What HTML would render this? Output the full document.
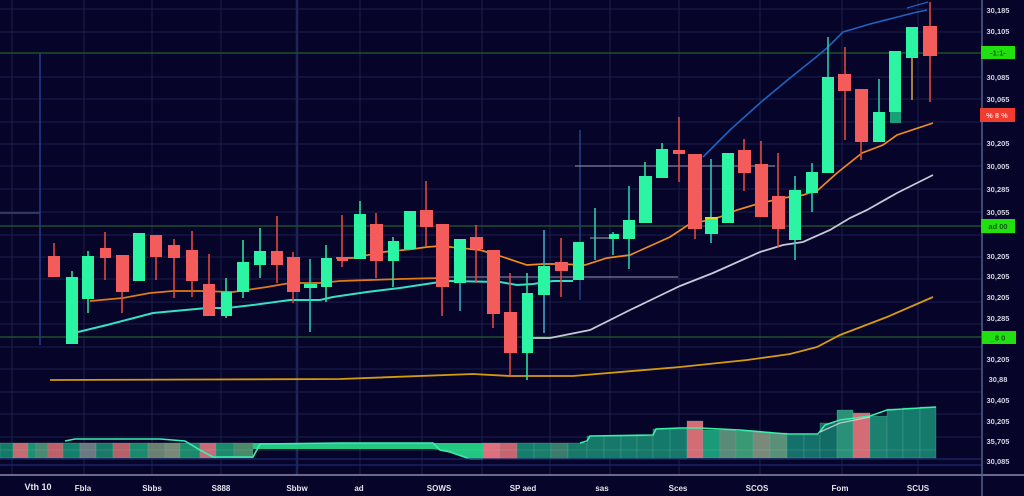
<!DOCTYPE html>
<html><head><meta charset="utf-8">
<style>
html,body{margin:0;padding:0;background:#060428;}
svg{display:block;}
text{font-family:"Liberation Sans",sans-serif;font-weight:bold;}
</style></head>
<body>
<svg width="1024" height="496" viewBox="0 0 1024 496" xmlns="http://www.w3.org/2000/svg">
<rect width="1024" height="496" fill="#060428"/>
<!-- horizontal grid -->
<g stroke="#1c2150" stroke-width="1">
<line x1="0" y1="9" x2="982" y2="9"/><line x1="0" y1="32" x2="982" y2="32"/>
<line x1="0" y1="77" x2="982" y2="77"/><line x1="0" y1="99" x2="982" y2="99"/>
<line x1="0" y1="122" x2="982" y2="122"/><line x1="0" y1="144" x2="982" y2="144"/>
<line x1="0" y1="166" x2="982" y2="166"/><line x1="0" y1="189" x2="982" y2="189"/>
<line x1="0" y1="212" x2="982" y2="212"/><line x1="0" y1="235" x2="982" y2="235"/>
<line x1="0" y1="257" x2="982" y2="257"/><line x1="0" y1="279" x2="982" y2="279"/>
<line x1="0" y1="302" x2="982" y2="302"/><line x1="0" y1="324" x2="982" y2="324"/>
<line x1="0" y1="347" x2="982" y2="347"/><line x1="0" y1="369" x2="982" y2="369"/>
<line x1="0" y1="392" x2="982" y2="392"/><line x1="0" y1="414" x2="982" y2="414"/>
<line x1="0" y1="437" x2="982" y2="437"/>
</g>
<!-- vertical grid -->
<g stroke="#1a1f4c" stroke-width="1">
<line x1="12" y1="0" x2="12" y2="475"/><line x1="84" y1="0" x2="84" y2="475"/>
<line x1="152" y1="0" x2="152" y2="475"/><line x1="221" y1="0" x2="221" y2="475"/>
<line x1="360" y1="0" x2="360" y2="475"/><line x1="422" y1="0" x2="422" y2="475"/>
<line x1="482" y1="0" x2="482" y2="475"/><line x1="550" y1="0" x2="550" y2="475"/>
<line x1="610" y1="0" x2="610" y2="475"/><line x1="679" y1="0" x2="679" y2="475"/>
<line x1="760" y1="0" x2="760" y2="475"/><line x1="842" y1="0" x2="842" y2="475"/>
<line x1="918" y1="0" x2="918" y2="475"/>
</g>
<line x1="297" y1="0" x2="297" y2="475" stroke="#1c2556" stroke-width="2.5"/>
<line x1="40" y1="53" x2="40" y2="345" stroke="#223d90" stroke-width="1.5"/>
<line x1="0" y1="213" x2="40" y2="213" stroke="#3a4370" stroke-width="1.5"/>
<line x1="580" y1="130" x2="580" y2="300" stroke="#2a4fa0" stroke-width="1.2"/>
<!-- green level lines -->
<g stroke="#1f4e2c" stroke-width="1.6">
<line x1="0" y1="53" x2="982" y2="53"/>
<line x1="0" y1="226" x2="982" y2="226"/>
<line x1="0" y1="337" x2="982" y2="337"/>
</g>
<!-- light horizontal lines -->
<line x1="575" y1="166" x2="775" y2="166" stroke="#9a9ab0" stroke-width="1.3" opacity="0.8"/>
<line x1="440" y1="277" x2="678" y2="277" stroke="#9a9ab0" stroke-width="1.3" opacity="0.8"/>
<line x1="590" y1="238" x2="618" y2="238" stroke="#9ab0b0" stroke-width="1.2" opacity="0.8"/>

<!-- gold slow MA -->
<polyline fill="none" stroke="#d49a10" stroke-width="1.8" points="50,380 200,379.5 340,379 473,374 510,376 573,376 680,367 747,360 790,354 817,347 840,335 887,317 933,297"/>
<!-- white/gray MA -->
<polyline fill="none" stroke="#c8c8d8" stroke-width="1.8" points="533,338 550,338 590,330 630,310 657,297 680,286 713,273 760,252 783,245 803,242 830,230 850,218 867,210 897,193 933,175"/>
<!-- teal MA -->
<polyline fill="none" stroke="#36e0c4" stroke-width="2" points="78,332 107,325 153,313 207,308 227,308 253,305 290,300 320,300 333,297 367,292 400,288 433,283 450,281 500,282 517,285 533,284 553,281 573,281"/>
<!-- orange MA A -->
<polyline fill="none" stroke="#e07a18" stroke-width="1.7" points="90,301 123,298 150,293 173,291 200,291 233,292 267,287 290,283 320,283 340,281 400,279 440,278"/>
<!-- orange MA B -->
<polyline fill="none" stroke="#f08a1a" stroke-width="1.7" points="336,258 353,258 383,252 413,249 427,247 440,246 480,250 500,256 527,265 543,264 560,264 585,265 607,258 630,255 670,237 688,225 720,217 737,210 757,204 783,198 803,195 818,190 837,173 862,153 883,145 897,135 933,123"/>
<!-- blue line -->
<polyline fill="none" stroke="#1f62c0" stroke-width="1.6" points="703,157 730,130 760,103 790,78 815,58 827,48 843,32 870,24 913,13 927,10"/>
<polyline fill="none" stroke="#1f62c0" stroke-width="1.2" points="907,8 928,2"/>

<!-- candles -->
<g stroke-width="1.6">
<!-- G = #2bf5a3 R = #f45b5b -->
<line x1="54" y1="243" x2="54" y2="277" stroke="#e0483f"/><rect x="48" y="256" width="12" height="21" fill="#f45b5b"/>
<line x1="72" y1="271" x2="72" y2="344" stroke="#2be09a"/><rect x="66" y="277" width="12" height="67" fill="#2bf5a3"/>
<line x1="88" y1="251" x2="88" y2="313" stroke="#2be09a"/><rect x="82" y="256" width="12" height="43" fill="#2bf5a3"/>
<line x1="105" y1="232" x2="105" y2="280" stroke="#e0483f"/><rect x="100" y="248" width="11" height="10" fill="#f45b5b"/>
<line x1="122" y1="255" x2="122" y2="313" stroke="#e0483f"/><rect x="116" y="255" width="13" height="37" fill="#f45b5b"/>
<rect x="133" y="233" width="12" height="48" fill="#2bf5a3"/>
<line x1="156" y1="235" x2="156" y2="280" stroke="#e0483f"/><rect x="150" y="235" width="12" height="22" fill="#f45b5b"/>
<line x1="174" y1="239" x2="174" y2="298" stroke="#e0483f"/><rect x="168" y="245" width="12" height="13" fill="#f45b5b"/>
<line x1="192" y1="231" x2="192" y2="297" stroke="#e0483f"/><rect x="186" y="250" width="12" height="31" fill="#f45b5b"/>
<line x1="209" y1="254" x2="209" y2="316" stroke="#e0483f"/><rect x="203" y="284" width="12" height="32" fill="#f45b5b"/>
<line x1="226" y1="278" x2="226" y2="318" stroke="#2be09a"/><rect x="221" y="292" width="11" height="24" fill="#2bf5a3"/>
<line x1="243" y1="240" x2="243" y2="298" stroke="#2be09a"/><rect x="237" y="262" width="12" height="30" fill="#2bf5a3"/>
<line x1="260" y1="228" x2="260" y2="278" stroke="#2be09a"/><rect x="254" y="251" width="12" height="14" fill="#2bf5a3"/>
<line x1="277" y1="216" x2="277" y2="283" stroke="#e0483f"/><rect x="271" y="251" width="12" height="14" fill="#f45b5b"/>
<line x1="293" y1="252" x2="293" y2="303" stroke="#e0483f"/><rect x="287" y="257" width="13" height="35" fill="#f45b5b"/>
<line x1="310" y1="259" x2="310" y2="332" stroke="#2ac8b0"/><rect x="304" y="284" width="13" height="4" fill="#2bf5a3"/>
<line x1="326" y1="245" x2="326" y2="302" stroke="#2be09a"/><rect x="321" y="258" width="11" height="29" fill="#2bf5a3"/>
<line x1="342" y1="215" x2="342" y2="267" stroke="#e0483f"/><rect x="337" y="257" width="11" height="4" fill="#f45b5b"/>
<line x1="360" y1="201" x2="360" y2="259" stroke="#2be09a"/><rect x="354" y="214" width="12" height="45" fill="#2bf5a3"/>
<line x1="376" y1="213" x2="376" y2="278" stroke="#e0483f"/><rect x="370" y="224" width="13" height="37" fill="#f45b5b"/>
<line x1="393" y1="237" x2="393" y2="287" stroke="#2be09a"/><rect x="388" y="241" width="11" height="20" fill="#2bf5a3"/>
<rect x="404" y="211" width="12" height="38" fill="#2bf5a3"/>
<line x1="426" y1="181" x2="426" y2="246" stroke="#e0483f"/><rect x="420" y="210" width="13" height="17" fill="#f45b5b"/>
<line x1="442" y1="224" x2="442" y2="316" stroke="#e0483f"/><rect x="436" y="224" width="13" height="63" fill="#f45b5b"/>
<line x1="460" y1="239" x2="460" y2="311" stroke="#3aa8c8"/><rect x="454" y="239" width="12" height="44" fill="#2bf5a3"/>
<line x1="476" y1="225" x2="476" y2="283" stroke="#e0483f"/><rect x="470" y="237" width="13" height="12" fill="#f45b5b"/>
<line x1="493" y1="250" x2="493" y2="328" stroke="#e0483f"/><rect x="487" y="250" width="13" height="64" fill="#f45b5b"/>
<line x1="510" y1="273" x2="510" y2="375" stroke="#e0483f"/><rect x="504" y="312" width="13" height="41" fill="#f45b5b"/>
<line x1="527" y1="273" x2="527" y2="380" stroke="#2be09a"/><rect x="522" y="293" width="11" height="60" fill="#2bf5a3"/>
<line x1="544" y1="230" x2="544" y2="333" stroke="#3aa8c8"/><rect x="538" y="266" width="12" height="29" fill="#2bf5a3"/>
<line x1="561" y1="238" x2="561" y2="297" stroke="#e0483f"/><rect x="555" y="262" width="13" height="9" fill="#f45b5b"/>
<rect x="573" y="242" width="11" height="38" fill="#2bf5a3"/>
<line x1="595" y1="208" x2="595" y2="260" stroke="#2ac8b0"/>
<line x1="613" y1="232" x2="613" y2="255" stroke="#2ac8b0"/><rect x="609" y="234" width="10" height="5" fill="#2bf5a3"/>
<line x1="629" y1="186" x2="629" y2="269" stroke="#2ac8b0"/><rect x="623" y="220" width="12" height="19" fill="#2bf5a3"/>
<line x1="645" y1="162" x2="645" y2="223" stroke="#2be09a"/><rect x="639" y="176" width="13" height="47" fill="#2bf5a3"/>
<line x1="662" y1="143" x2="662" y2="178" stroke="#2be09a"/><rect x="656" y="149" width="12" height="29" fill="#2bf5a3"/>
<line x1="679" y1="117" x2="679" y2="182" stroke="#e0483f"/><rect x="673" y="150" width="12" height="4" fill="#f45b5b"/>
<line x1="695" y1="154" x2="695" y2="239" stroke="#e0483f"/><rect x="688" y="154" width="14" height="75" fill="#f45b5b"/>
<line x1="711" y1="159" x2="711" y2="243" stroke="#2ac8b0"/><rect x="705" y="218" width="13" height="16" fill="#2bf5a3"/><rect x="705" y="217" width="13" height="2" fill="#d8e020"/>
<rect x="722" y="153" width="12" height="70" fill="#2bf5a3"/>
<line x1="744" y1="139" x2="744" y2="191" stroke="#e0483f"/><rect x="738" y="150" width="13" height="23" fill="#f45b5b"/>
<line x1="761" y1="141" x2="761" y2="217" stroke="#e0483f"/><rect x="755" y="164" width="13" height="53" fill="#f45b5b"/>
<line x1="778" y1="153" x2="778" y2="247" stroke="#e0483f"/><rect x="772" y="196" width="13" height="33" fill="#f45b5b"/>
<line x1="795" y1="176" x2="795" y2="260" stroke="#2ac8b0"/><rect x="789" y="190" width="12" height="50" fill="#2bf5a3"/>
<line x1="812" y1="163" x2="812" y2="212" stroke="#2ac8b0"/><rect x="806" y="172" width="12" height="21" fill="#2bf5a3"/>
<line x1="828" y1="37" x2="828" y2="173" stroke="#2ac8b0"/><rect x="822" y="77" width="12" height="96" fill="#2bf5a3"/>
<line x1="845" y1="47" x2="845" y2="140" stroke="#e0483f"/><rect x="838" y="74" width="13" height="17" fill="#f45b5b"/>
<line x1="861" y1="89" x2="861" y2="160" stroke="#e0483f"/><rect x="855" y="89" width="13" height="53" fill="#f45b5b"/>
<line x1="879" y1="79" x2="879" y2="142" stroke="#2ac8b0"/><rect x="873" y="112" width="12" height="30" fill="#2bf5a3"/>
<rect x="889" y="51" width="12" height="61" fill="#2bf5a3"/><rect x="890" y="112" width="11" height="11" fill="#17a07a"/>
<line x1="912" y1="27" x2="912" y2="100" stroke="#c8a040"/><rect x="906" y="27" width="12" height="31" fill="#2bf5a3"/>
<line x1="930" y1="2" x2="930" y2="102" stroke="#e0483f"/><rect x="923" y="26" width="14" height="30" fill="#f45b5b"/>
</g>

<!-- volume band -->
<g stroke="#5fae98" stroke-width="0.6" stroke-opacity="0.5">
<rect x="0" y="443" width="13" height="15" fill="#137a68"/>
<rect x="13" y="443" width="15" height="15" fill="#c46a70"/>
<rect x="28" y="443" width="8" height="15" fill="#1c9070"/>
<rect x="36" y="443" width="12" height="15" fill="#4a8a72"/>
<rect x="48" y="443" width="15" height="15" fill="#c05f6a"/>
<rect x="63" y="443" width="17" height="15" fill="#14806c"/>
<rect x="80" y="443" width="16" height="15" fill="#6a7a80"/>
<rect x="96" y="443" width="17" height="15" fill="#1a7a6a"/>
<rect x="113" y="443" width="17" height="15" fill="#b8606a"/>
<rect x="130" y="443" width="18" height="15" fill="#1a8a6c"/>
<rect x="148" y="443" width="17" height="15" fill="#6a8070"/>
<rect x="165" y="443" width="15" height="15" fill="#7a8878"/>
<rect x="180" y="443" width="20" height="15" fill="#1b8a6a"/>
<rect x="200" y="443" width="16" height="15" fill="#c86a78"/>
<rect x="216" y="443" width="18" height="15" fill="#1a8a6a"/>
<rect x="234" y="443" width="19" height="15" fill="#4a8a6a"/>
<rect x="253" y="443" width="180" height="6" fill="#27c684" stroke="none"/>
<polygon points="433,443 483,443 483,459 470,459 450,452 440,450 433,449" fill="#22c880" stroke="none"/>
<rect x="483" y="443" width="17" height="16" fill="#e0707e"/>
<rect x="500" y="443" width="17" height="16" fill="#c86470"/>
<rect x="517" y="443" width="17" height="16" fill="#157d6c"/>
<rect x="534" y="443" width="17" height="16" fill="#1a7f6a"/>
<rect x="551" y="443" width="17" height="16" fill="#3a7d6c"/>
<rect x="568" y="443" width="19" height="16" fill="#157868"/>
<rect x="587" y="436" width="17" height="23" fill="#157868"/>
<rect x="604" y="436" width="17" height="23" fill="#17786a"/>
<rect x="621" y="436" width="16" height="23" fill="#157a6c"/>
<rect x="637" y="436" width="16" height="23" fill="#157868"/>
<rect x="653" y="429" width="17" height="30" fill="#14786a"/>
<rect x="670" y="429" width="17" height="30" fill="#15786a"/>
<rect x="687" y="421" width="16" height="37" fill="#d46c76"/>
<rect x="703" y="430" width="17" height="28" fill="#1a9a78"/>
<rect x="720" y="430" width="16" height="28" fill="#5a8a78"/>
<rect x="736" y="431" width="17" height="27" fill="#3a9874"/>
<rect x="753" y="432" width="17" height="26" fill="#7a8a7a"/>
<rect x="770" y="433" width="17" height="25" fill="#5a9078"/>
<rect x="787" y="435" width="17" height="23" fill="#14706a"/>
<rect x="804" y="435" width="16" height="23" fill="#14706a"/>
<rect x="820" y="423" width="17" height="35" fill="#126c66"/>
<rect x="837" y="410" width="16" height="48" fill="#2a9078"/>
<rect x="853" y="413" width="17" height="45" fill="#d46c76"/>
<rect x="870" y="416" width="17" height="42" fill="#1a8070"/>
<rect x="887" y="409" width="16" height="49" fill="#157a6c"/>
<rect x="903" y="408" width="17" height="50" fill="#157a6c"/>
<rect x="920" y="407" width="16" height="51" fill="#157a6c"/>
</g>
<line x1="0" y1="450" x2="936" y2="450" stroke="#9cc8b8" stroke-width="0.6" opacity="0.4"/>
<!-- volume outline -->
<polyline fill="none" stroke="#3af0b0" stroke-width="1.6" points="65,441 75,439 160,439 185,441 200,450 213,457 253,457 260,444 340,443 433,443 440,450 450,452 470,459 483,459"/>
<polyline fill="none" stroke="#3af0a8" stroke-width="1.6" points="580,443 587,441 590,436 653,435 656,429 680,428 700,428 740,430 787,434 818,434 825,425 840,420 870,416 887,410 936,407"/>
<polyline fill="none" stroke="#d8d8e0" stroke-width="1.3" opacity="0.8" points="820,432 840,423 870,417"/>

<!-- bottom lines -->
<line x1="0" y1="459" x2="982" y2="459" stroke="#1d2870" stroke-width="1.2"/>
<line x1="0" y1="465" x2="982" y2="465" stroke="#1d2870" stroke-width="1.2"/>
<line x1="0" y1="475" x2="1024" y2="475" stroke="#8a8aa8" stroke-width="1.5"/>
<line x1="982" y1="0" x2="982" y2="496" stroke="#52628a" stroke-width="1.5"/>

<!-- right axis labels -->
<g font-size="7.5" fill="#d4d4e4" text-anchor="middle">
<text x="998" y="13">30,185</text>
<text x="998" y="34">30,105</text>
<text x="998" y="80">30,085</text>
<text x="998" y="102">30,065</text>
<text x="998" y="146">30,205</text>
<text x="998" y="169">30,005</text>
<text x="998" y="192">30,285</text>
<text x="998" y="215">30,055</text>
<text x="998" y="259">30,205</text>
<text x="998" y="279">30,205</text>
<text x="998" y="300">30,205</text>
<text x="998" y="321">30,285</text>
<text x="998" y="362">30,205</text>
<text x="998" y="382">30,88</text>
<text x="998" y="403">30,405</text>
<text x="998" y="424">30,205</text>
<text x="998" y="444">35,705</text>
<text x="998" y="464">30,085</text>
</g>
<rect x="981" y="46" width="34" height="13" fill="#22e010"/>
<text x="998" y="55.5" font-size="7.5" fill="#0a5a0a" text-anchor="middle">-1:1-</text>
<rect x="980" y="108" width="35" height="14" fill="#f03c30"/>
<text x="997" y="118" font-size="7.5" fill="#ffd0d0" text-anchor="middle">% 8 %</text>
<rect x="981" y="219" width="34" height="14" fill="#22e010"/>
<text x="998" y="229" font-size="7.5" fill="#0a5a0a" text-anchor="middle">ad 00</text>
<rect x="982" y="331" width="34" height="13" fill="#22e010"/>
<text x="998" y="340.5" font-size="7.5" fill="#0a5a0a" text-anchor="middle">_8 0</text>

<!-- x axis labels -->
<g font-size="8" fill="#e4e4ee" text-anchor="middle">
<text x="38" y="490" font-size="9">Vth 10</text>
<text x="83" y="491">Fbla</text>
<text x="152" y="491">Sbbs</text>
<text x="221" y="491">S888</text>
<text x="297" y="491">Sbbw</text>
<text x="359" y="491">ad</text>
<text x="439" y="491">SOWS</text>
<text x="523" y="491">SP aed</text>
<text x="602" y="491">sas</text>
<text x="678" y="491">Sces</text>
<text x="757" y="491">SCOS</text>
<text x="840" y="491">Fom</text>
<text x="918" y="491">SCUS</text>
</g>
</svg>
</body></html>
